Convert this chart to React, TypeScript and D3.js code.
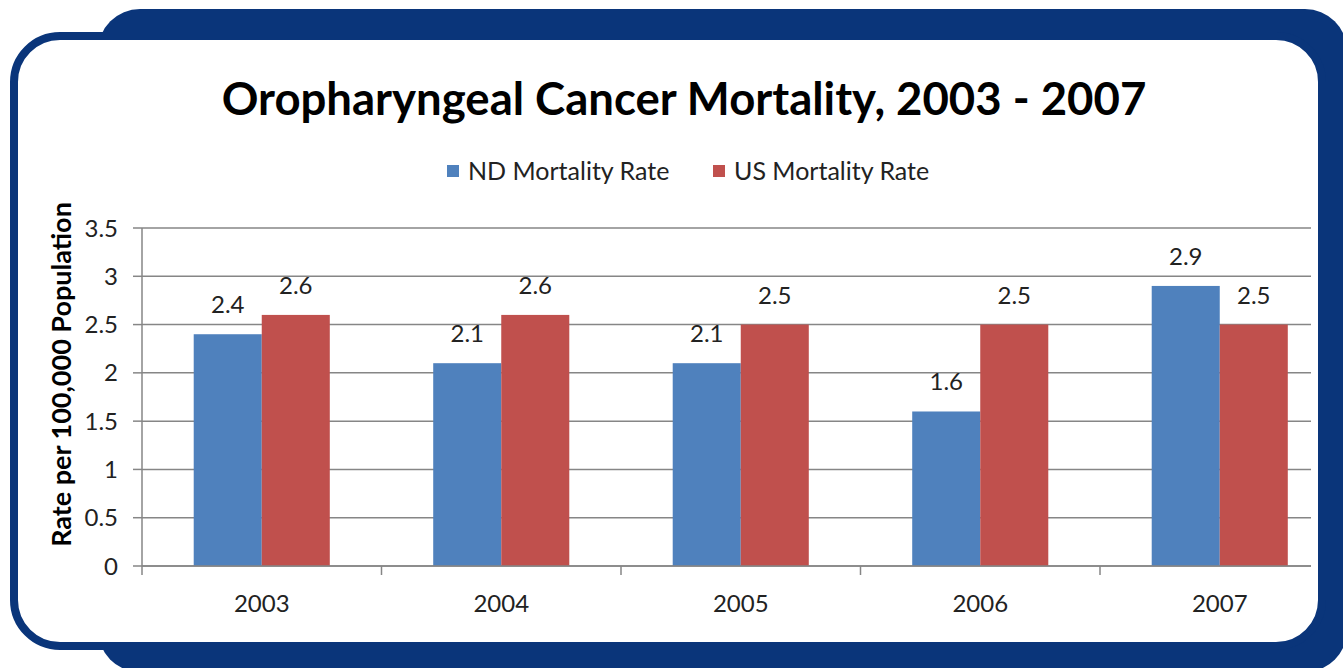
import React from "react";
import * as d3 from "d3";

const years = ["2003", "2004", "2005", "2006", "2007"];
const seriesNames = ["ND Mortality Rate", "US Mortality Rate"];
const ndValues = [2.4, 2.1, 2.1, 1.6, 2.9];
const usValues = [2.6, 2.6, 2.5, 2.5, 2.5];
const seriesColors = ["#4f81bd", "#c0504d"];
const yTicks = [0, 0.5, 1, 1.5, 2, 2.5, 3, 3.5];
const yTickLabels = ["0", "0.5", "1", "1.5", "2", "2.5", "3", "3.5"];

const W = 1343;
const H = 668;
const NAVY = "#0a357a";
const FONT = "Lato, 'Open Sans', sans-serif";

export default function App() {
  const x0 = 142;
  const x1 = 1339.5;
  const gridEnd = 1311;
  const y0 = 566;
  const y1 = 228;

  const x = d3.scaleBand<string>().domain(years).range([x0, x1]).paddingInner(0).paddingOuter(0);
  const inner = d3.scaleBand<string>().domain(seriesNames).range([0, x.bandwidth()]).paddingInner(0).paddingOuter(0.76).align(0.5);
  const y = d3.scaleLinear().domain([0, 3.5]).range([y0, y1]);
  const series = [ndValues, usValues];
  const fmt = d3.format(".1f");

  const boundaries = years.map((yr) => x(yr)!).concat([x0 + x.bandwidth() * years.length]).filter((b) => b <= gridEnd + 1);

  return (
    <svg width={W} height={H} style={{ position: "absolute", left: 0, top: 0, display: "block" }}>
      <rect x={0} y={0} width={W} height={H} fill="#ffffff" />
      {/* back navy shape */}
      <rect x={98} y={9} width={1249} height={663} rx={42} ry={42} fill={NAVY} />
      {/* front white panel */}
      <rect x={14} y={36} width={1308} height={610} rx={46} ry={46} fill="#ffffff" stroke={NAVY} strokeWidth={8} />

      {/* title */}
      <text x={684} y={115} textAnchor="middle" fontFamily={FONT} fontWeight="bold" fontSize={45.5} fill="#000">
        Oropharyngeal Cancer Mortality, 2003 - 2007
      </text>

      {/* legend */}
      {seriesNames.map((name, i) => {
        const lx = i === 0 ? 447 : 713;
        return (
          <g key={name}>
            <rect x={lx} y={165} width={12} height={12} fill={seriesColors[i]} />
            <text x={lx + 21} y={180} fontFamily={FONT} fontSize={25} fill="#222">
              {name}
            </text>
          </g>
        );
      })}

      {/* gridlines */}
      {yTicks.map((t, i) => (
        <g key={"g" + i}>
          <line x1={x0} x2={gridEnd} y1={y(t)} y2={y(t)} stroke="#868686" strokeWidth={1.5} />
          <line x1={x0 - 9} x2={x0} y1={y(t)} y2={y(t)} stroke="#868686" strokeWidth={1.5} />
          <text x={118} y={y(t) + 8.5} textAnchor="end" fontFamily={FONT} fontSize={24} fill="#222">
            {yTickLabels[i]}
          </text>
        </g>
      ))}

      {/* bars */}
      {years.map((yr, j) => (
        <g key={yr}>
          {series.map((vals, i) => {
            const bx = x(yr)! + inner(seriesNames[i])!;
            const bw = inner.bandwidth();
            const by = y(vals[j]);
            return (
              <g key={i}>
                <rect x={bx} y={by} width={bw} height={y0 - by} fill={seriesColors[i]} />
                <text x={bx + bw / 2} y={by - 21} textAnchor="middle" fontFamily={FONT} fontSize={24} fill="#222">
                  {fmt(vals[j])}
                </text>
              </g>
            );
          })}
          <text x={x(yr)! + x.bandwidth() / 2} y={612} textAnchor="middle" fontFamily={FONT} fontSize={24} fill="#222">
            {yr}
          </text>
        </g>
      ))}

      {/* axes */}
      <line x1={x0} x2={x0} y1={y1} y2={y0} stroke="#868686" strokeWidth={1.5} />
      <line x1={x0} x2={gridEnd} y1={y0} y2={y0} stroke="#868686" strokeWidth={1.5} />
      {boundaries.map((b, i) => (
        <line key={"t" + i} x1={b} x2={b} y1={y0} y2={y0 + 9} stroke="#868686" strokeWidth={1.5} />
      ))}

      {/* y axis title */}
      <text
        transform={`translate(71, 374.5) rotate(-90)`}
        textAnchor="middle"
        fontFamily={FONT}
        fontWeight="bold"
        fontSize={27}
        fill="#000"
      >
        Rate per 100,000 Population
      </text>
    </svg>
  );
}
